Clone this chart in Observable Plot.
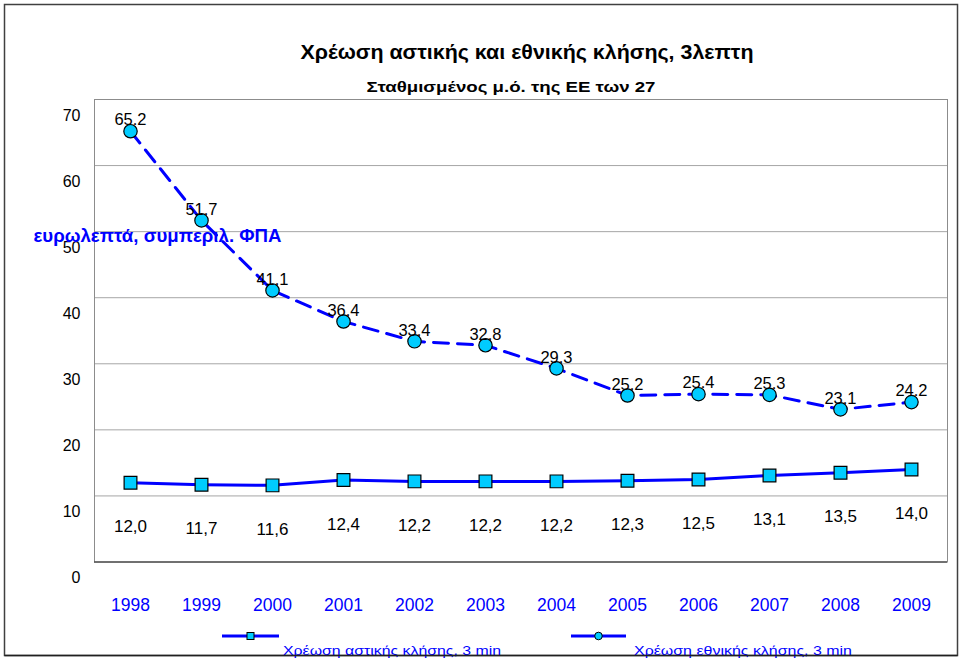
<!DOCTYPE html>
<html>
<head>
<meta charset="utf-8">
<script src="https://cdn.jsdelivr.net/npm/d3@7"></script>
<script src="https://cdn.jsdelivr.net/npm/@observablehq/plot@0.6"></script>
<style>
  html, body { margin: 0; padding: 0; background: #fff; }
  #chart { width: 961px; height: 662px; }
  svg { font-family: "Liberation Sans", Arial, sans-serif; }
</style>
</head>
<body>
<div id="chart"></div>
<script>
const years = ["1998","1999","2000","2001","2002","2003","2004","2005","2006","2007","2008","2009"];
const localCharge = [12.0, 11.7, 11.6, 12.4, 12.2, 12.2, 12.2, 12.3, 12.5, 13.1, 13.5, 14.0];
const nationalCharge = [65.2, 51.7, 41.1, 36.4, 33.4, 32.8, 29.3, 25.2, 25.4, 25.3, 23.1, 24.2];
const yTicks = [0, 10, 20, 30, 40, 50, 60, 70];
const title = "Χρέωση αστικής και εθνικής κλήσης, 3λεπτη";
const subtitle = "Σταθμισμένος μ.ό. της ΕΕ των 27";
const unitLabel = "ευρωλεπτά, συμπεριλ. ΦΠΑ";
const seriesNames = ["Χρέωση αστικής κλήσης, 3 min", "Χρέωση εθνικής κλήσης, 3 min"];

const local = years.map((y, i) => ({year: y, value: localCharge[i]}));
const national = years.map((y, i) => ({year: y, value: nationalCharge[i]}));

const BLUE = "#0000ff";
const CYAN = "#00ccff";

const plot = Plot.plot({
  width: 961,
  height: 662,
  marginLeft: 94,
  marginRight: 14,
  marginTop: 99,
  marginBottom: 100.5,
  style: {fontFamily: '"Liberation Sans", Arial, sans-serif', background: "#fff"},
  x: {type: "point", domain: years, padding: 0.5, align: 0.5},
  y: {domain: [0, 70]},
  marks: [
    Plot.gridY(yTicks, {stroke: "#a6a6a6", strokeOpacity: 1}),
    Plot.frame({stroke: "#8c8c8c"}),
    Plot.ruleY([0], {stroke: "#333"}),
    Plot.axisY(yTicks, {tickSize: 0, tickPadding: 14, dy: 16, fontSize: 16, fill: "#000", label: null}),
    Plot.axisX({tickSize: 0, tickPadding: 37, fontSize: 17.5, fill: BLUE, label: null}),
    Plot.line(local, {x: "year", y: "value", stroke: BLUE, strokeWidth: 3}),
    Plot.line(national, {x: "year", y: "value", stroke: BLUE, strokeWidth: 3, strokeDasharray: "15,9"}),
    Plot.dot(local, {x: "year", y: "value", symbol: "square", r: 7.2, fill: CYAN, stroke: "#000", strokeWidth: 1.2}),
    Plot.dot(national, {x: "year", y: "value", symbol: "circle", r: 6.7, fill: CYAN, stroke: "#000", strokeWidth: 1.2}),
    Plot.text(local, {x: "year", y: "value", text: d => d.value.toFixed(1).replace(".", ","), dy: 44, fontSize: 17, fill: "#000"}),
    Plot.text(national, {x: "year", y: "value", text: d => d.value.toFixed(1), dy: -11, fontSize: 16.5, fill: "#000"}),
    Plot.text([title], {frameAnchor: "top", lineAnchor: "middle", dx: 6, dy: -47, fontSize: 20, fontWeight: "bold", fill: "#000"}),
    Plot.text([subtitle], {frameAnchor: "top", lineAnchor: "middle", dx: -10, dy: -12, fontSize: 15.5, fontWeight: "bold", fill: "#000"}),
    Plot.text([unitLabel], {frameAnchor: "top-left", lineAnchor: "middle", dx: -61, dy: 137, textAnchor: "start", fontSize: 17.5, fontWeight: "bold", fill: BLUE})
  ]
});

document.getElementById("chart").appendChild(plot);

const svg = d3.select(plot);
// stretch the wide texts to the widths seen in the reference
const widths = new Map([[title, 453], [subtitle, 289], [unitLabel, 248]]);
svg.selectAll("text").each(function() {
  const w = widths.get(this.textContent);
  if (w) d3.select(this).attr("textLength", w).attr("lengthAdjust", "spacingAndGlyphs");
});

// decoration: outer border and legend
svg.append("rect").attr("x", 4.5).attr("y", 4.5).attr("width", 953).attr("height", 651)
  .attr("fill", "none").attr("stroke", "#404040").attr("stroke-width", 1.5);

const legend = svg.append("g").attr("font-size", 13).attr("fill", BLUE).attr("text-anchor", "start");
const legendItems = [
  {name: seriesNames[0], x0: 222, x1: 279, tx: 283, symbol: "square"},
  {name: seriesNames[1], x0: 571, x1: 626, tx: 634, symbol: "circle"}
];
legendItems.forEach(it => {
  const ly = 636;
  legend.append("line").attr("x1", it.x0).attr("x2", it.x1).attr("y1", ly).attr("y2", ly)
    .attr("stroke", BLUE).attr("stroke-width", 3);
  const cx = (it.x0 + it.x1) / 2;
  if (it.symbol === "square") {
    legend.append("rect").attr("x", cx - 3.5).attr("y", ly - 3.5).attr("width", 7).attr("height", 7)
      .attr("fill", CYAN).attr("stroke", "#000").attr("stroke-width", 1);
  } else {
    legend.append("circle").attr("cx", cx).attr("cy", ly).attr("r", 3.8)
      .attr("fill", CYAN).attr("stroke", "#000").attr("stroke-width", 1);
  }
  legend.append("text").attr("x", it.tx).attr("y", 655).attr("fill", BLUE)
    .attr("textLength", 218).attr("lengthAdjust", "spacingAndGlyphs").text(it.name);
});
svg.append("line").attr("x1", 4.5).attr("x2", 957.5).attr("y1", 655.5).attr("y2", 655.5)
  .attr("stroke", "#202020").attr("stroke-width", 1.5);
</script>
</body>
</html>
